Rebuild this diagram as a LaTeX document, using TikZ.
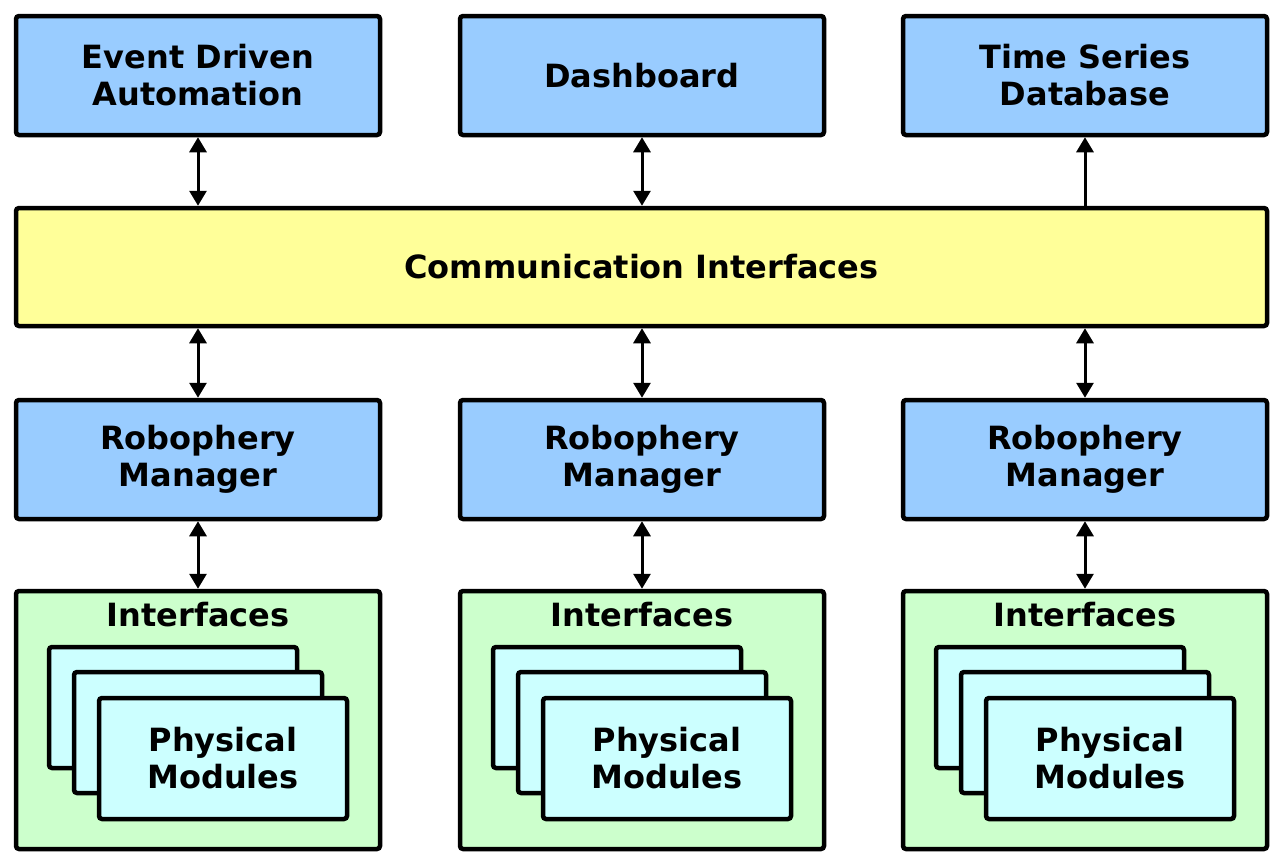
\documentclass[tikz,border=0pt]{standalone}
\usepackage{fontspec}
\setmainfont{DejaVu Sans}
\usetikzlibrary{arrows.meta}
\definecolor{boxblue}{HTML}{99CCFF}
\definecolor{boxyellow}{HTML}{FFFF99}
\definecolor{boxgreen}{HTML}{CCFFCC}
\definecolor{boxcyan}{HTML}{CCFFFF}
\begin{document}
\begin{tikzpicture}[x=1pt, y=-1pt, font=\fontsize{32}{37}\selectfont\bfseries,
		box/.style={draw, line width=4.5pt, rounded corners=3pt, inner sep=0pt, align=center, minimum width=364pt, minimum height=119pt},
		card/.style={box, fill=boxcyan, minimum width=248pt, minimum height=121pt},
		link/.style={line width=3pt, -{Triangle[length=15pt,width=17pt]}},
		dlink/.style={link, {Triangle[length=15pt,width=17pt]}-{Triangle[length=15pt,width=17pt]}}]
		\useasboundingbox (0,0) rectangle (1283,865);

		\node[box, fill=boxblue] (eda) at (198, 75.5) {Event Driven\\Automation};
		\node[box, fill=boxblue] (dash) at (642, 75.5) {Dashboard};
		\node[box, fill=boxblue] (tsdb) at (1085, 75.5) {Time Series\\Database};
		\node[box, fill=boxyellow, minimum width=1251pt, minimum height=118pt] (ci) at (641.5, 267) {Communication Interfaces};

		\foreach \i/\x in {1/198, 2/642, 3/1085} {
			\node[box, fill=boxblue] (rm\i) at (\x, 459.5) {Robophery\\Manager};
			\node[box, fill=boxgreen, minimum height=258pt] (if\i) at (\x, 720) {};
			\node (ift\i) at (\x, 615) {Interfaces};
			\node[card] (pma\i) at (\x-25, 707.5) {};
			\node[card] (pmb\i) at (\x, 732.5) {};
			\node[card] (pmc\i) at (\x+25, 758.5) {Physical\\Modules};
			\path (ci.south -| rm\i) edge[dlink] (rm\i.north)
			(rm\i.south) edge[dlink] (if\i.north);
		}

		\path (eda.south) edge[dlink] (eda.south |- ci.north)
		(dash.south) edge[dlink] (dash.south |- ci.north)
		(tsdb.south |- ci.north) edge[link] (tsdb.south);
	\end{tikzpicture}
\end{document}
